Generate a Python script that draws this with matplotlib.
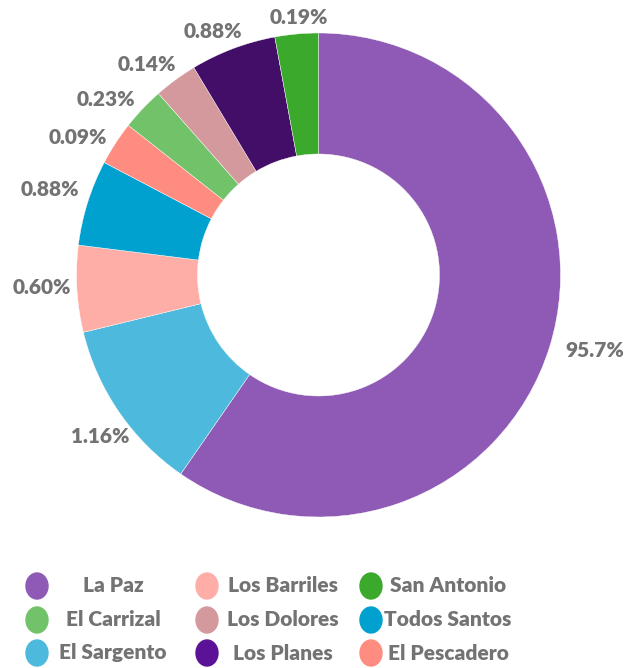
import matplotlib
matplotlib.use('Agg')
from matplotlib import pyplot as plt
from matplotlib.patches import Ellipse

# slice order (clockwise from the top)
towns = ['La Paz', 'El Sargento', 'Los Barriles', 'Todos Santos', 'El Pescadero',
         'El Carrizal', 'Los Dolores', 'Los Planes', 'San Antonio']
sizes = [214.7, 41.6, 20.8, 20.6, 10.5, 10.4, 10.4, 20.6, 10.4]
pct_labels = ['95.7%', '1.16%', '0.60%', '0.88%', '0.09%', '0.23%', '0.14%', '0.88%', '0.19%']
colors = ['#8e5ab5', '#4cb9dd', '#ffaea7', '#00a0cf', '#ff8c80',
          '#72c26a', '#d4999c', '#420e68', '#3aa92c']

# legend (column by column)
legend_towns = ['La Paz', 'El Carrizal', 'El Sargento',
                'Los Barriles', 'Los Dolores', 'Los Planes',
                'San Antonio', 'Todos Santos', 'El Pescadero']
legend_colors = ['#8e5ab5', '#72c26a', '#4cb9dd',
                 '#ffaea7', '#d4999c', '#5b1296',
                 '#3aa92c', '#00a0cf', '#ff8c80']

# label positions, in units of the outer radius
label_pos = [(1.143, -0.314), (-0.903, -0.669), (-1.143, -0.050), (-1.110, 0.355),
             (-0.995, 0.570), (-0.878, 0.727), (-0.710, 0.868), (-0.438, 1.006),
             (-0.081, 1.066)]

W, H = 630, 668
cx, cy, R = 318.5, 275, 242
grey = '#737373'
font = 'Lato'

fig = plt.figure(figsize=(W / 100, H / 100), dpi=100)
ax_bottom = 540
ax = fig.add_axes([0, 1 - ax_bottom / H, 1, ax_bottom / H])
ax.pie(sizes, colors=colors, startangle=90, counterclock=False, radius=1,
       wedgeprops=dict(width=0.5, edgecolor='white', linewidth=0.3))
ax.set_xlim(-cx / R, (W - cx) / R)
ax.set_ylim(-(ax_bottom - cy) / R, cy / R)
ax.set_aspect('auto')
ax.axis('off')

for (x, y), t in zip(label_pos, pct_labels):
    ax.text(x, y, t, ha='center', va='center', fontsize=15, color=grey,
            fontweight='heavy', family=font)

# legend drawn by hand: ellipse marker + centred text
col_marker_x = [37, 207, 371]
col_text_x = [113, 283, 448]
row_y = [586, 620, 653]
for i, (name, c) in enumerate(zip(legend_towns, legend_colors)):
    col, row = i // 3, i % 3
    mx = col_marker_x[col] / W
    my = 1 - row_y[row] / H
    fig.patches.append(Ellipse((mx, my), 22 / W, 26 / H, color=c,
                               transform=fig.transFigure, figure=fig))
    fig.text(col_text_x[col] / W, my, name, ha='center', va='center',
             fontsize=15, color=grey, fontweight='heavy', family=font)

plt.savefig('out.png', dpi=100)
